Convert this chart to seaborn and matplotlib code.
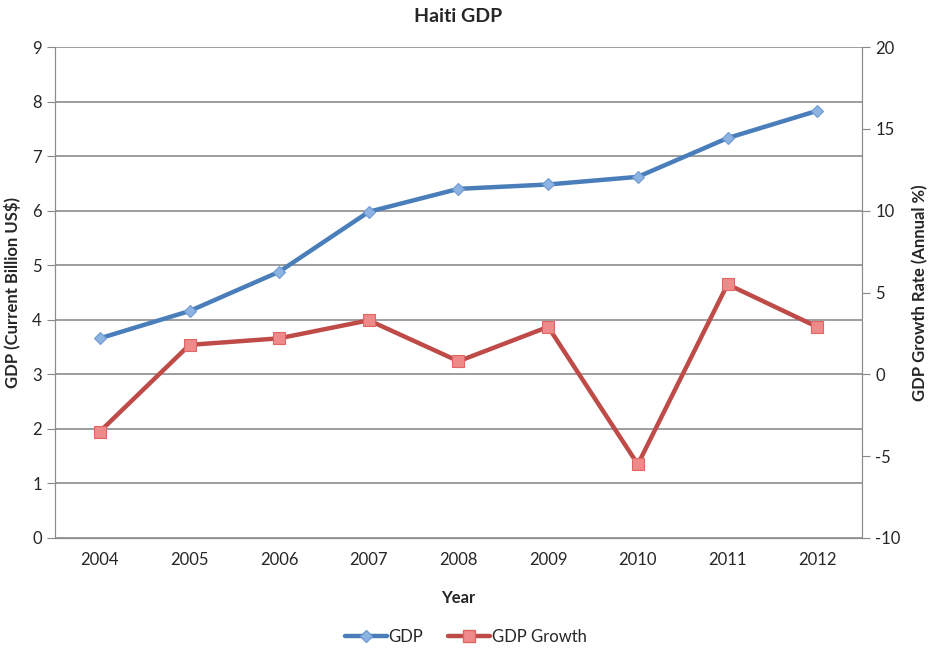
import numpy as np
import pandas as pd
import matplotlib
matplotlib.use('Agg')
import matplotlib.pyplot as plt
import seaborn as sns
from matplotlib.lines import Line2D

years = ['2004', '2005', '2006', '2007', '2008', '2009', '2010', '2011', '2012']
gdp = [3.66, 4.16, 4.88, 5.98, 6.40, 6.48, 6.62, 7.33, 7.83]
growth = [-3.5, 1.8, 2.2, 3.3, 0.8, 2.9, -5.5, 5.5, 2.9]

sns.set_style('white')
plt.rcParams['font.family'] = ['Lato', 'DejaVu Sans']
plt.rcParams['axes.unicode_minus'] = False

df = pd.DataFrame({'pos': range(len(years)), 'Year': years, 'GDP': gdp, 'GDP Growth': growth})

fig = plt.figure(figsize=(9.32, 6.5), dpi=100)
ax = fig.add_axes([55/932, 112/650, 807/932, 491/650])
ax2 = ax.twinx()

blue = '#4a7ebb'
red = '#be4b48'

sns.lineplot(data=df, x='pos', y='GDP', ax=ax, color=blue, linewidth=3.2,
             marker='D', markersize=6.5, markerfacecolor='#8db3e2',
             markeredgecolor='#6f9bd3', markeredgewidth=0.8, zorder=5, legend=False)
sns.lineplot(data=df, x='pos', y='GDP Growth', ax=ax2, color=red, linewidth=3.2,
             marker='s', markersize=8, markerfacecolor='#ef8a8a',
             markeredgecolor='#e06666', markeredgewidth=0.8, zorder=5, legend=False)

ax.set_xlim(-0.5, len(years) - 0.5)
ax.set_ylim(0, 9)
ax.set_yticks(range(0, 10))
ax2.set_ylim(-10, 20)
ax2.set_yticks(range(-10, 21, 5))

ax.set_xticks(df['pos'])
ax.set_xticklabels(years)
ax.set_xticks(np.arange(-0.5, len(years), 1), minor=True)
ax.tick_params(axis='x', which='major', length=0, labelsize=12, pad=10)
ax.tick_params(axis='x', which='minor', length=6, color='#888888', direction='out')
ax.tick_params(axis='y', length=6, color='#888888', direction='out', labelsize=12, left=True)
ax2.tick_params(axis='y', length=6, color='#888888', direction='out', labelsize=12, right=True)

ax.grid(axis='y', color='#8c8c8c', linewidth=1.2)
ax.set_axisbelow(True)

for a in (ax, ax2):
    a.spines['top'].set_visible(False)
    a.spines['left'].set_color('#8c8c8c')
    a.spines['right'].set_color('#8c8c8c')
    a.spines['bottom'].set_color('#8c8c8c')

ax.set_xlabel('Year', fontsize=12, fontweight='bold', labelpad=16)
ax.set_ylabel('GDP (Current Billion US$)', fontsize=12, fontweight='bold', labelpad=8)
ax2.set_ylabel('GDP Growth Rate (Annual %)', fontsize=12, fontweight='bold', labelpad=8)
ax.set_title('Haiti GDP', fontsize=14, fontweight='bold', pad=18)

handles = [Line2D([], [], color=blue, linewidth=3.2, marker='D', markersize=6.5,
                  markerfacecolor='#8db3e2', markeredgecolor='#6f9bd3'),
           Line2D([], [], color=red, linewidth=3.2, marker='s', markersize=8,
                  markerfacecolor='#ef8a8a', markeredgecolor='#e06666')]
fig.legend(handles, ['GDP', 'GDP Growth'], loc='center', bbox_to_anchor=(466/932, 1 - 637/650),
           ncol=2, frameon=False, fontsize=12, handlelength=2.5, handletextpad=0.1, columnspacing=1.5)

fig.savefig('out.png', dpi=100)
